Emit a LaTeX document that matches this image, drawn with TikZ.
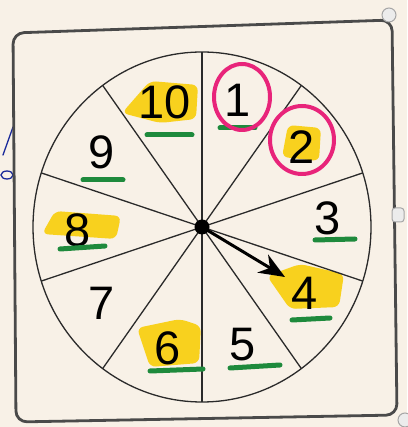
\documentclass[tikz,border=0pt]{standalone}
\usepackage{fontspec}
\setmainfont{Liberation Sans}
\usetikzlibrary{arrows.meta,calc}
\definecolor{paper}{HTML}{F8F1E7}
\definecolor{ink}{HTML}{2A2A2A}
\definecolor{hl}{HTML}{F8D11E}
\definecolor{grn}{HTML}{1E8A3C}
\definecolor{pnk}{HTML}{E8247A}
\definecolor{bluink}{HTML}{1A2A9A}
\tikzset{
  num/.style={inner sep=0pt, font=\fontsize{47}{47}\selectfont, text=black},
  uline/.style={grn, line width=5pt, line cap=round},
  hilite/.style={fill=hl, rounded corners=6pt},
  ring/.style={pnk, line width=4pt},
  spoke/.style={ink, line width=1.3pt},
  handle/.style={draw=gray!70, fill=gray!15, line width=1pt}
}
\begin{document}
\begin{tikzpicture}[x=1pt,y=1pt]
\fill[paper] (0,0) rectangle (407,427);
\useasboundingbox (0,0) rectangle (407,427);
% blue scribble at left edge
\draw[bluink, line width=1.3pt, line cap=round] (13,300) -- (3,272);
\draw[bluink, line width=1.3pt] (7,252) ellipse (6pt and 4pt);
% outer frame
\draw[ink!85, line width=2.8pt, rounded corners=11pt]
  (13,394) -- (392,407) -- (397,12) -- (16,5) -- cycle;
% handles
\draw[handle] (389,412) circle (7pt);
\draw[handle, rounded corners=3pt] (392,205) rectangle (404,219);
\draw[handle] (405,7) circle (7pt);
% highlights
\fill[hilite] (122,314) -- (150,346) -- (198,342) -- (196,308) -- (160,304) -- cycle;
\fill[hilite] (282,270) -- (288,302) -- (321,299) -- (319,266) -- cycle;
\fill[hilite] (42,193) -- (55,216) -- (121,211) -- (116,188) -- cycle;
\fill[hilite] (267,151) -- (300,163) -- (344,153) -- (339,120) -- (290,118) -- cycle;
\fill[hilite] (137,99) -- (180,108) -- (201,101) -- (199,64) -- (150,60) -- cycle;
% wheel
\coordinate (c) at (202,200);
\draw[spoke] (c) ellipse (169pt and 175pt);
\foreach \a in {90,54,18,-18,-54,-90,-126,-162,162,126}
  \draw[spoke] (c) -- ($(c)+({169*cos(\a)},{175*sin(\a)})$);
% numbers
\node[num] (n1) at (238,327) {1};
\node[num] (n2) at (302,280) {2};
\node[num] (n3) at (328,209) {3};
\node[num] (n4) at (305,134) {4};
\node[num] (n5) at (243,82) {5};
\node[num] (n6) at (168,79) {6};
\node[num] (n7) at (102,124) {7};
\node[num] (n8) at (78,197) {8};
\node[num] (n9) at (102,275) {9};
\node[num] (n10) at (165,325) {10};
% underlines
\draw[uline] (147,292) -- (192,292);
\draw[uline] (220,299) -- (255,299);
\draw[uline] (83,247) -- (123,247);
\draw[uline] (315,187) -- (355,188);
\draw[uline] (60,178) -- (105,181);
\draw[uline] (292,107) -- (330,109);
\draw[uline] (150,56) -- (203,58);
\draw[uline] (230,59) -- (280,62);
% pink rings
\draw[ring] (242,330) ellipse (28pt and 33pt);
\draw[ring] (302,287) ellipse (32pt and 34pt);
% pointer
\coordinate (tip) at (285,150);
\draw[black, line width=3pt, -{Stealth[length=26pt,width=21pt]}] (c) -- (tip);
\node[circle, fill=black, minimum size=15pt, inner sep=0pt] (hub) at (c) {};
\end{tikzpicture}
\end{document}
